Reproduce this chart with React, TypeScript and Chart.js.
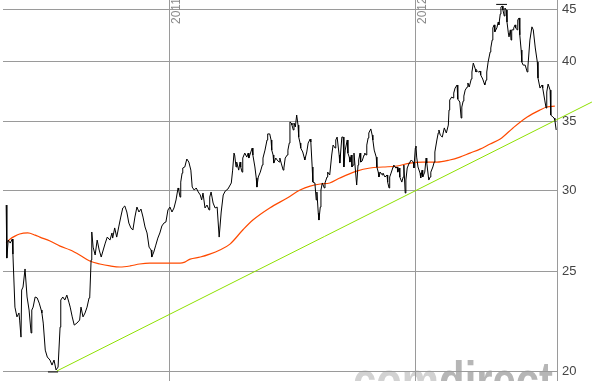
import React, { useEffect, useRef } from 'react';
import { Chart, registerables } from 'chart.js';

Chart.register(...registerables);

// x values are days since 2010-01-01
const priceDays = [
  122, 123, 125, 128, 131, 132, 135, 138, 141, 142, 144, 145, 147, 150, 153, 156, 159, 160, 162, 165,
  168, 171, 174, 175, 177, 180, 183, 187, 190, 193, 196, 199, 202, 203, 206, 209, 212, 215, 217, 220,
  223, 227, 231, 233, 236, 239, 242, 245, 246, 248, 249, 251, 254, 257, 260, 263, 266, 269, 272, 276,
  279, 280, 283, 286, 289,
  292, 295, 298, 301, 304, 307, 310, 313, 316, 319, 322, 325, 328, 331, 334, 337, 338, 341, 344, 347,
  350, 353, 356, 359, 362, 365, 368, 371, 374, 377, 378, 380, 381, 383, 384, 387, 390, 393, 396, 398,
  401, 404, 407, 410, 412, 414, 417, 420, 423, 424, 426, 429, 432, 435, 438, 441, 444, 447, 451,
  456, 458, 460, 461, 463, 464, 467, 469, 470, 472, 473, 476, 479, 481, 482, 485, 487, 488, 491, 493,
  494, 496, 499, 502, 503, 506, 509, 510, 513, 515, 516, 518, 519, 522, 524, 527, 528, 530, 533, 534,
  536, 539, 540, 542, 543, 545, 546, 548, 549, 551, 553, 555, 556, 558, 559, 562, 564, 565, 568, 570,
  573, 574, 576, 577, 580, 582, 583, 585, 586, 588, 589, 591, 594, 595, 598, 599, 602, 605, 607, 610,
  611, 613, 616, 617,
  620, 622, 623, 625, 628, 629, 631, 632, 634, 635, 637, 638, 641, 642, 644, 645, 647, 648, 650, 653,
  654, 656, 657, 659, 660, 663, 665, 666, 668, 671, 672, 674, 675, 677, 680, 681, 684, 687, 688, 690,
  691, 693, 696, 697, 700, 702, 703, 705, 706, 709, 711, 712, 714, 715, 717, 720, 721, 723, 726, 727,
  729, 730, 731, 733, 734, 736, 737, 739, 740, 743, 745, 746, 749, 751, 752, 755, 757, 758, 761, 763,
  764, 766, 769, 772, 775, 778, 779,
  780, 783, 785, 786, 788, 791, 792, 795, 797, 798, 800, 801, 803, 806, 807, 809, 812, 813, 815, 818,
  819, 821, 823, 825, 826, 829, 831, 832, 834, 835, 837, 840, 841, 843, 844, 846, 847, 850, 852, 853,
  855, 856, 858, 859, 861, 862, 864, 865, 867, 868, 870, 871, 872, 874, 875, 877, 878, 880, 881, 883,
  884, 886, 887, 889, 892, 895, 896, 899, 902, 904, 907, 910, 911, 914, 917, 918, 921, 923, 924, 926,
  929, 930, 933, 935, 936, 938,
];

const priceValues = [
  29.01, 25.76, 26.82, 26.64, 26.88, 25.99, 23.08, 22.58, 22.78, 22.42, 21.58, 23.98, 24.14, 25.14, 23.61, 22.93, 21.78, 22.93, 23.08, 23.61,
  23.56, 23.29, 22.93, 22.78, 22.27, 20.96, 20.64, 20.50, 20.27, 20.50, 20.05, 20.18, 22.07, 23.45, 23.61, 23.45, 23.71, 23.34, 23.08, 22.58,
  22.17, 22.27, 22.42, 23.08, 22.58, 22.78, 23.08, 23.56, 23.61, 25.65, 27.31, 26.40, 25.94, 26.82, 26.23, 25.82, 26.23, 26.64, 27.00, 26.82,
  27.25, 26.94, 27.56, 27.00, 27.62,
  28.24, 28.82, 28.95, 28.56, 27.86, 27.56, 27.43, 28.24, 28.88, 28.56, 28.75, 28.24, 27.62, 27.25, 26.40, 26.23, 25.82, 26.11, 26.52, 26.94,
  27.25, 27.68, 27.86, 27.93, 28.69, 28.88, 28.56, 28.82, 29.34, 30.14, 30.00, 29.53, 30.54, 31.16, 31.52, 31.59, 32.16, 31.94, 31.37, 30.20,
  30.00, 30.14, 29.87, 29.67, 29.34, 29.80, 28.82, 29.01, 28.69, 29.53, 29.87, 29.14, 28.82, 28.88, 27.00, 28.56, 29.67, 29.93, 30.07,
  30.48, 31.37, 32.59, 32.45, 31.59, 31.94, 31.37, 31.94, 31.59, 31.23, 32.23, 32.59, 32.30, 32.59, 32.23, 32.67, 32.96, 32.45, 31.59, 30.82,
  30.20, 30.89, 31.23, 31.73, 32.23, 32.81, 33.56, 34.02, 34.02, 33.56, 32.81, 32.45, 31.87, 32.23, 32.09, 31.94, 32.23, 31.87, 31.37, 31.52,
  32.23, 32.45, 32.81, 33.33, 34.94, 34.86, 34.70, 34.32, 34.86, 34.55, 35.49, 34.70, 33.78, 33.33, 32.96, 32.67, 32.30, 32.09, 32.67, 33.33,
  33.63, 33.41, 31.59, 30.54, 30.48, 29.34, 29.87, 28.50, 28.05, 28.88, 30.00, 30.48, 30.14, 30.48, 30.89, 31.23, 31.03, 32.45, 33.18, 32.96,
  33.56, 33.78, 32.45, 31.87,
  33.78, 33.78, 31.59, 32.81, 33.56, 32.59, 32.30, 31.94, 32.45, 31.59, 31.73, 32.59, 30.89, 30.34, 31.73, 32.09, 32.59, 31.94, 32.01, 32.45,
  32.59, 32.45, 33.18, 33.71, 34.09, 34.40, 33.93, 33.56, 32.81, 32.30, 31.59, 31.23, 30.89, 31.23, 31.03, 31.16, 30.89, 31.03, 30.54, 30.14,
  30.89, 31.16, 31.59, 31.73, 31.52, 31.59, 31.23, 31.52, 30.89, 30.54, 30.89, 31.73, 29.80, 30.68, 31.52, 31.87, 31.94, 32.09, 31.94, 31.52,
  32.96, 33.11, 32.30, 31.59, 31.59, 31.16, 30.82, 31.37, 30.89, 31.23, 32.23, 31.87, 30.68, 30.89, 31.23, 31.59, 31.94, 32.67, 33.56, 34.09,
  34.32, 33.93, 33.78, 34.48, 34.09, 34.70, 35.89,
  36.70, 36.95, 36.87, 37.28, 37.70, 37.96, 36.78, 36.54, 35.25, 36.13, 36.62, 37.03, 37.53, 37.79, 38.13, 37.79, 38.47, 39.08, 39.87, 39.34,
  39.08, 39.16, 39.08, 39.16, 38.82, 38.47, 38.13, 37.96, 38.38, 39.08, 39.96, 40.87, 41.24, 41.98, 43.14, 43.43, 42.76, 43.14, 43.71, 43.43,
  44.50, 45.20, 45.30, 44.90, 44.30, 45.10, 44.90, 43.71, 42.66, 42.28, 42.95, 41.98, 42.95, 42.95, 43.14, 43.43, 43.14, 42.95, 43.91, 44.11,
  42.47, 41.05, 39.96, 39.69, 39.69, 39.08, 39.52, 41.98, 43.24, 42.95, 41.24, 39.96, 38.56, 37.70, 37.96, 37.70, 36.70, 36.05, 37.37, 38.04,
  37.53, 35.49, 35.33, 35.25, 35.09, 34.32,
];

const avgDays = [
  122, 128, 135, 142, 154, 165, 172, 187, 202, 217, 231, 246, 261, 276, 291, 306, 320, 335, 350, 365,
  380, 387, 395, 410, 424, 439, 454, 473, 488, 513, 539, 558, 573, 588, 602, 617, 642, 662, 681, 702,
  721, 740, 761, 780, 795, 810, 825, 840, 855, 874, 895, 914, 924, 936,
];
const avgValues = [
  26.64, 26.88, 27.06, 27.19, 27.25, 27.12, 27.00, 26.76, 26.46, 26.23, 25.94, 25.59, 25.42, 25.31, 25.25, 25.31, 25.42, 25.47, 25.47, 25.47,
  25.47, 25.53, 25.70, 25.82, 25.99, 26.23, 26.58, 27.43, 28.05, 28.82, 29.47, 30.00, 30.27, 30.41, 30.48, 30.82, 31.30, 31.52, 31.59, 31.66,
  31.87, 31.94, 31.94, 32.09, 32.30, 32.59, 32.88, 33.26, 33.63, 34.48, 35.33, 35.89, 36.13, 36.21,
];

const trendDays = [197, 991];
const trendValues = [20.0, 36.54];

const highDays = [849, 865];
const highValue = 45.47;
const lowDays = [184, 199];
const lowValue = 19.96;

const yTicks = [20, 25, 30, 35, 40, 45];
const yearTickDays = [365, 730];
const yearLabels = ['2011', '2012'];

const X_MIN = 117.3;
const X_MAX = 939.2;
const Y_MIN = 19.56;
const Y_MAX = 45.92;

const pts = (xs: number[], ys: number[]) => xs.map((x, i) => ({ x, y: ys[i] }));

const watermarkPlugin = {
  id: 'watermark',
  beforeDraw(chart: any) {
    const { ctx, chartArea } = chart;
    ctx.save();
    ctx.translate(chartArea.right - 204, chartArea.bottom + 17);
    ctx.scale(0.805, 1);
    ctx.font = 'bold 52px "Liberation Sans", Arial, sans-serif';
    ctx.textBaseline = 'alphabetic';
    ctx.fillStyle = '#d2d2d2';
    ctx.fillText('com', 0, 0);
    const w = ctx.measureText('com').width;
    ctx.fillStyle = '#b6b6b6';
    ctx.fillText('direct', w, 0);
    ctx.restore();
  },
};

const yearLabelPlugin = {
  id: 'yearLabels',
  beforeDatasetsDraw(chart: any) {
    const { ctx, chartArea } = chart;
    const xs = chart.scales.x;
    ctx.save();
    ctx.font = '12px "Liberation Sans", Arial, sans-serif';
    ctx.fillStyle = '#8a8a8a';
    ctx.textBaseline = 'alphabetic';
    ctx.textAlign = 'left';
    yearTickDays.forEach((d, i) => {
      const px = Math.round(xs.getPixelForValue(d));
      ctx.save();
      ctx.translate(px + 10, chartArea.top + 24);
      ctx.rotate(-Math.PI / 2);
      ctx.fillText(yearLabels[i], 0, 0);
      ctx.restore();
    });
    ctx.restore();
  },
};

export default function App() {
  const ref = useRef<HTMLCanvasElement | null>(null);

  useEffect(() => {
    document.body.style.margin = '0';
    const canvas = ref.current;
    if (!canvas) return;
    const chart = new Chart(canvas, {
      type: 'line',
      data: {
        datasets: [
          {
            label: 'Trend',
            data: pts(trendDays, trendValues),
            borderColor: '#8ee000',
            borderWidth: 1,
            pointRadius: 0,
            clip: false as any,
            order: 3,
          },
          {
            label: 'Durchschnitt',
            data: pts(avgDays, avgValues),
            borderColor: '#ff4a00',
            borderWidth: 1.2,
            pointRadius: 0,
            cubicInterpolationMode: 'monotone',
            order: 2,
          },
          {
            label: 'Kurs',
            data: pts(priceDays, priceValues),
            borderColor: '#000000',
            borderWidth: 1,
            pointRadius: 0,
            order: 1,
          },
          {
            label: 'Hoch',
            data: highDays.map((d) => ({ x: d, y: highValue })),
            borderColor: '#000000',
            borderWidth: 1,
            pointRadius: 0,
            order: 1,
          },
          {
            label: 'Tief',
            data: lowDays.map((d) => ({ x: d, y: lowValue })),
            borderColor: '#000000',
            borderWidth: 1,
            pointRadius: 0,
            order: 1,
          },
        ],
      },
      options: {
        responsive: false,
        animation: false,
        events: [],
        layout: { padding: { left: 3, right: 0, top: 0, bottom: 0 } },
        plugins: { legend: { display: false }, tooltip: { enabled: false } },
        scales: {
          x: {
            type: 'linear',
            min: X_MIN,
            max: X_MAX,
            bounds: 'data',
            ticks: { display: false },
            grid: { color: '#9a9a9a', lineWidth: 1, drawTicks: false },
            border: { display: false },
            afterBuildTicks: (s: any) => {
              s.ticks = yearTickDays.map((v) => ({ value: v }));
            },
            afterFit: (s: any) => {
              s.height = 0;
              s.paddingLeft = 0;
              s.paddingRight = 0;
            },
          },
          y: {
            type: 'logarithmic',
            position: 'right',
            min: Y_MIN,
            max: Y_MAX,
            bounds: 'data',
            ticks: {
              color: '#444444',
              font: { family: '"Liberation Sans", Arial, sans-serif', size: 13 },
              padding: 5,
              autoSkip: false,
              callback: (v: any) => String(v),
            },
            grid: { color: '#9a9a9a', lineWidth: 1, drawTicks: false },
            border: { display: true, color: '#9a9a9a', width: 1 },
            afterBuildTicks: (s: any) => {
              s.ticks = yTicks.map((v) => ({ value: v }));
            },
            afterFit: (s: any) => {
              s.width = 35;
              s.paddingTop = 0;
              s.paddingBottom = 0;
            },
          },
        },
      },
      plugins: [watermarkPlugin, yearLabelPlugin],
    } as any);
    return () => chart.destroy();
  }, []);

  return (
    <div style={{ position: 'absolute', left: 0, top: 0, width: 592, height: 381 }}>
      <canvas ref={ref} width={592} height={381} style={{ display: 'block', width: 592, height: 381 }} />
    </div>
  );
}
